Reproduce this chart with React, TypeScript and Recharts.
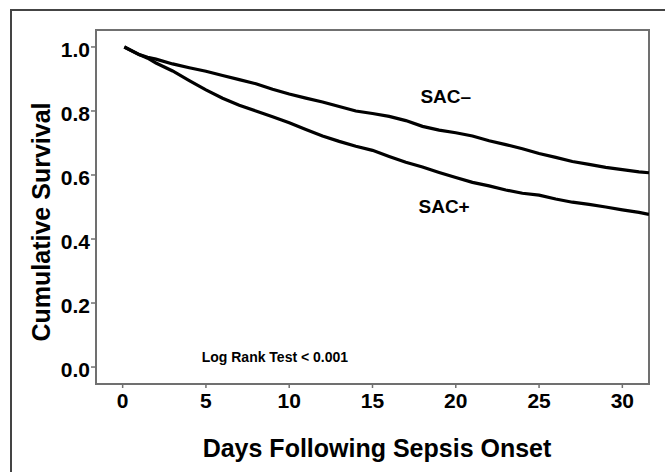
import {
  Label,
  Line,
  LineChart,
  ReferenceArea,
  ReferenceDot,
  XAxis,
  YAxis,
} from "recharts";

const days = [
  0.1, 1, 1.5, 2, 3, 4, 5, 6, 7, 8, 9, 10, 11, 12, 13, 14, 15, 16, 17, 18, 19, 20,
  21, 22, 23, 24, 25, 26, 27, 28, 29, 30, 31, 31.6,
];

const sacNegative = [
  1.0, 0.976, 0.968, 0.962, 0.947, 0.935, 0.924, 0.911, 0.898, 0.885, 0.868, 0.853,
  0.84, 0.828, 0.814, 0.8, 0.792, 0.783, 0.77, 0.752, 0.74, 0.732, 0.722, 0.707,
  0.695, 0.682, 0.667, 0.655, 0.642, 0.633, 0.624, 0.617, 0.61, 0.607,
];

const sacPositive = [
  1.0, 0.976, 0.965, 0.95, 0.925, 0.895, 0.866, 0.84, 0.818, 0.8, 0.782, 0.763,
  0.742, 0.722, 0.705, 0.69, 0.677, 0.658, 0.64, 0.625, 0.608, 0.592, 0.577, 0.566,
  0.553, 0.543, 0.537, 0.525, 0.515, 0.508, 0.5, 0.491, 0.483, 0.477,
];

const xTicks = [0, 5, 10, 15, 20, 25, 30];
const yTicks = [0, 0.2, 0.4, 0.6, 0.8, 1.0];
const xDomain: [number, number] = [-1.6, 31.6];
const yDomain: [number, number] = [-0.053, 1.053];

const FONT = "'Liberation Sans', Arial, sans-serif";
const FRAME = "#707070";

const data = days.map((day, i) => ({
  day,
  neg: sacNegative[i],
  pos: sacPositive[i],
}));

const XTick = ({ x, y, payload }: any) => (
  <text
    x={x}
    y={y + 18}
    textAnchor="middle"
    fontFamily={FONT}
    fontSize={21}
    fontWeight="bold"
    fill="#000"
  >
    {payload.value}
  </text>
);

const YTick = ({ x, y, payload }: any) => (
  <text
    x={x}
    y={y + 10}
    textAnchor="end"
    fontFamily={FONT}
    fontSize={21}
    fontWeight="bold"
    fill="#000"
  >
    {Number(payload.value).toFixed(1)}
  </text>
);

const textLabel = (value: string, size: number) => (
  <Label
    value={value}
    position="center"
    fontFamily={FONT}
    fontSize={size}
    fontWeight="bold"
    fill="#000"
  />
);

export default function App() {
  return (
    <div
      style={{
        position: "absolute",
        left: 0,
        top: 0,
        width: 665,
        height: 472,
        background: "#fff",
        overflow: "hidden",
      }}
    >
      <div
        style={{
          position: "absolute",
          left: 10,
          top: 9,
          width: 700,
          height: 500,
          borderLeft: "2px solid #444",
          borderTop: "2px solid #444",
        }}
      />
      <LineChart
        width={665}
        height={472}
        data={data}
        margin={{ top: 30, right: 16, left: 36, bottom: 48 }}
        style={{ position: "absolute", left: 0, top: 0 }}
      >
        <XAxis
          dataKey="day"
          type="number"
          domain={xDomain}
          ticks={xTicks}
          allowDataOverflow
          height={40}
          axisLine={false}
          tickLine={{ stroke: FRAME, strokeWidth: 1.5 }}
          tickSize={4}
          tick={<XTick />}
        />
        <YAxis
          type="number"
          domain={yDomain}
          ticks={yTicks}
          allowDataOverflow
          width={60}
          axisLine={false}
          tickLine={{ stroke: FRAME, strokeWidth: 1.5 }}
          tickSize={5}
          tickMargin={1}
          tick={<YTick />}
        />
        <ReferenceArea
          x1={xDomain[0]}
          x2={xDomain[1]}
          y1={yDomain[0]}
          y2={yDomain[1]}
          fill="none"
          stroke={FRAME}
          strokeWidth={2}
          ifOverflow="visible"
        />
        <Line
          dataKey="neg"
          type="linear"
          stroke="#000"
          strokeWidth={3.2}
          dot={false}
          isAnimationActive={false}
        />
        <Line
          dataKey="pos"
          type="linear"
          stroke="#000"
          strokeWidth={3.2}
          dot={false}
          isAnimationActive={false}
        />
        <ReferenceDot x={19.4} y={0.847} r={0} fill="none" stroke="none">
          {textLabel("SAC–", 19)}
        </ReferenceDot>
        <ReferenceDot x={19.3} y={0.503} r={0} fill="none" stroke="none">
          {textLabel("SAC+", 19)}
        </ReferenceDot>
        <ReferenceDot x={9.14} y={0.031} r={0} fill="none" stroke="none">
          {textLabel("Log Rank Test < 0.001", 14)}
        </ReferenceDot>
      </LineChart>
      <div
        style={{
          position: "absolute",
          left: 41,
          top: 222,
          transform: "translate(-50%, -50%) rotate(-90deg)",
          whiteSpace: "nowrap",
          fontFamily: FONT,
          fontSize: 25,
          fontWeight: "bold",
          color: "#000",
        }}
      >
        Cumulative Survival
      </div>
      <div
        style={{
          position: "absolute",
          left: 377,
          top: 448,
          transform: "translate(-50%, -50%)",
          whiteSpace: "nowrap",
          fontFamily: FONT,
          fontSize: 25,
          fontWeight: "bold",
          color: "#000",
        }}
      >
        Days Following Sepsis Onset
      </div>
    </div>
  );
}
